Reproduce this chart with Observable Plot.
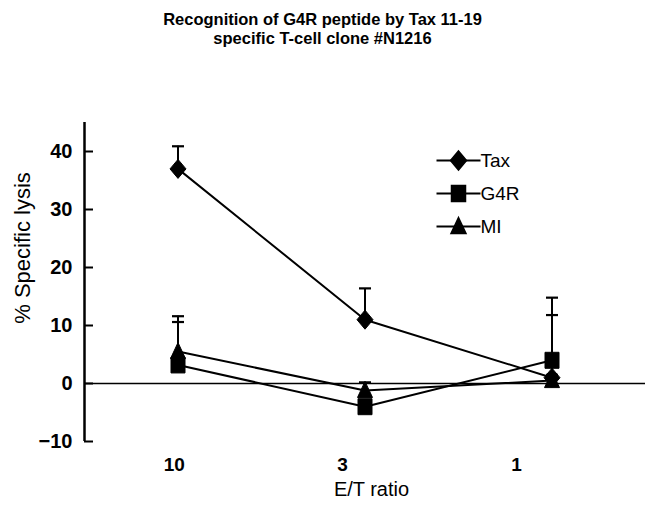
<!DOCTYPE html>
<html><head><meta charset="utf-8">
<script src="https://cdn.jsdelivr.net/npm/d3@7"></script>
<script src="https://cdn.jsdelivr.net/npm/@observablehq/plot@0.6"></script>
<style>body{margin:0;background:#fff}</style>
</head><body><div id="chart"></div>
<script>
// ---- data ----
const ratioLabels = ["10", "3", "1"];          // E/T ratio categories
const ratioIndex = [0, 1, 2];                   // category positions of the points
const labelPos = [-0.02, 0.88, 1.81];           // where the tick labels sit (offset in the original)
const seriesNames = ["Tax", "G4R", "MI"];
const taxValues = [37, 11, 1.0];
const taxErr = [3.9, 5.4, 0.5];
const g4rValues = [3.2, -4.0, 4.0];
const g4rErr = [7.4, 1.0, 10.8];
const m1Values = [5.5, -1.2, 0.5];
const m1Err = [6.1, 1.4, 11.3];
const yTicks = [-10, 0, 10, 20, 30, 40];
const titleLines = ["Recognition of G4R peptide by Tax 11-19", "specific T-cell clone #N1216"];
const yLabel = "% Specific lysis";
const xLabel = "E/T ratio";

// ---- build table ----
const allValues = [taxValues, g4rValues, m1Values];
const allErr = [taxErr, g4rErr, m1Err];
const rows = [];
seriesNames.forEach((s, k) => {
  ratioIndex.forEach((xi, i) => {
    rows.push({series: s, x: xi, y: allValues[k][i], top: allValues[k][i] + allErr[k][i]});
  });
});
const ticksTable = labelPos.map((p, i) => ({pos: p, label: ratioLabels[i]}));

// ---- symbols ----
const diamond = {draw(c) { c.moveTo(0, -9.5); c.lineTo(8, 0); c.lineTo(0, 9.5); c.lineTo(-8, 0); c.closePath(); }};
const square = {draw(c) { c.moveTo(-7, -8); c.lineTo(7, -8); c.lineTo(7, 8); c.lineTo(-7, 8); c.closePath(); }};
const triangle = {draw(c) { c.moveTo(0, -9); c.lineTo(7.5, 7); c.lineTo(-7.5, 7); c.closePath(); }};
const cap = {draw(c) { c.moveTo(-6, 0); c.lineTo(6, 0); }};
const legendLine = {draw(c) { c.moveTo(-22, 0); c.lineTo(22, 0); }};
const symbols = {"Tax": diamond, "G4R": square, "MI": triangle};

const sans = "'Liberation Sans', Arial, sans-serif";

const marks = [
  // zero line
  Plot.ruleY([0], {x1: -0.5, x2: 2.5, strokeWidth: 1.6}),
  // y axis line
  Plot.ruleX([-0.5], {y1: -10, y2: 45, strokeWidth: 2.5}),
  Plot.axisY({ticks: yTicks, tickSize: -9, tickPadding: 21, strokeWidth: 2, fontSize: 20, fontWeight: "bold", fontFamily: sans, label: null}),
  // x tick labels
  Plot.text(ticksTable, {x: "pos", text: "label", frameAnchor: "bottom", dy: 29, fontSize: 19, fontWeight: "bold", fontFamily: sans}),
  // error bars
  Plot.ruleX(rows, {x: "x", y1: "y", y2: "top", strokeWidth: 2}),
  Plot.dot(rows, {x: "x", y: "top", symbol: cap, stroke: "black", strokeWidth: 2.2, fill: "none"}),
  // lines
  Plot.line(rows, {x: "x", y: "y", z: "series", stroke: "black", strokeWidth: 2})
];
seriesNames.forEach(s => {
  marks.push(Plot.dot(rows.filter(d => d.series === s), {x: "x", y: "y", symbol: symbols[s], fill: "black", stroke: "black", strokeWidth: 1}));
});
// legend
seriesNames.forEach((s, i) => {
  const dy = 38 + i * 33;
  marks.push(Plot.dot([s], {frameAnchor: "top-left", dx: 374, dy, symbol: legendLine, stroke: "black", strokeWidth: 2, fill: "none"}));
  marks.push(Plot.dot([s], {frameAnchor: "top-left", dx: 374, dy, symbol: symbols[s], fill: "black", stroke: "black"}));
  marks.push(Plot.text([s], {frameAnchor: "top-left", dx: 396, dy, text: d => d, textAnchor: "start", lineAnchor: "middle", fontSize: 19, fontFamily: sans}));
});
// title
titleLines.forEach((t, i) => {
  marks.push(Plot.text([t], {frameAnchor: "top-left", dx: 238, dy: -103 + i * 19, text: d => d, textAnchor: "middle", lineAnchor: "middle", fontSize: 16.5, fontWeight: "bold", fontFamily: sans}));
});
// axis labels
marks.push(Plot.text([yLabel], {frameAnchor: "left", dx: -62, dy: -34, rotate: -90, text: d => d, textAnchor: "middle", lineAnchor: "middle", fontSize: 22, fontFamily: sans, letterSpacing: "1px"}));
marks.push(Plot.text([xLabel], {frameAnchor: "bottom-left", dx: 287, dy: 48, text: d => d, textAnchor: "middle", lineAnchor: "middle", fontSize: 20, fontFamily: sans}));

const chart = Plot.plot({
  width: 649, height: 508,
  marginLeft: 84, marginRight: 4, marginTop: 122, marginBottom: 67,
  x: {domain: [-0.5, 2.5], axis: null},
  y: {domain: [-10, 45], axis: null},
  style: {background: "#fff", color: "black"},
  marks
});
document.getElementById("chart").append(chart);
</script>
</body></html>
